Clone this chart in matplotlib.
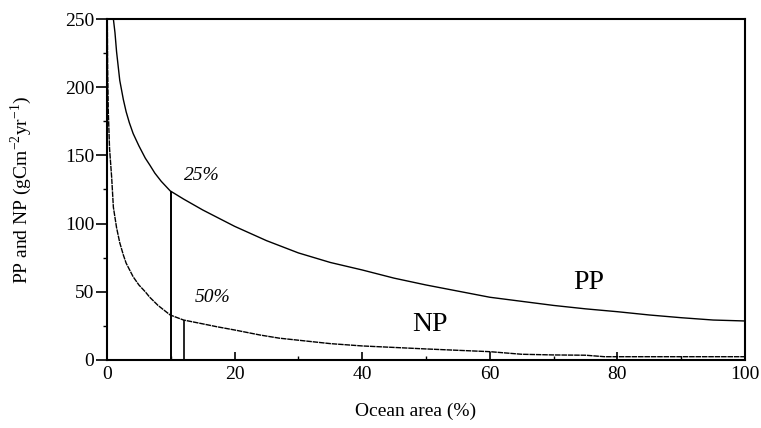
import matplotlib.pyplot as plt
import numpy as np

plt.rcParams['font.family'] = ['Liberation Serif', 'DejaVu Serif']
plt.rcParams['mathtext.fontset'] = 'custom'
plt.rcParams['mathtext.rm'] = 'Liberation Serif'

# curves
pp_x = [1.0, 1.25, 1.5, 2.0, 2.56, 3.0, 3.5, 4.1, 5.0, 6.0, 6.7, 7.5, 8.5, 9.9,
        12, 15, 17.5, 20, 25, 30, 35, 40, 45, 50, 55, 60, 65, 70, 75, 80, 85, 90, 95, 100]
pp_y = [250, 240, 226, 205, 191, 182, 174, 166, 157, 148, 143, 137, 131, 124,
        118, 110, 104, 98, 87.5, 78.5, 71.5, 66, 60, 55, 50.5, 46, 43, 40, 37.5, 35.4, 33, 31, 29.3, 28.6]

np_x = [0.05, 0.1, 0.2, 0.4, 0.73, 1.0, 1.5, 2.0, 2.56, 3.0, 4.1, 5.0, 6.0, 6.7, 8.0, 9.9,
        12, 15, 17.2, 20, 24, 27, 30, 35, 40, 50, 60, 65, 70, 75, 78, 100]
np_y = [250, 215, 183, 155, 134, 112, 97, 86, 77, 71, 61, 55, 50, 46, 40, 33,
        29.3, 26.5, 24.4, 22, 18.3, 16, 14.5, 12, 10.3, 8.1, 6.1, 4.2, 3.7, 3.5, 2.4, 2.4]

cut25 = 10
cut50 = 12

fig = plt.figure(figsize=(7.61, 4.28), dpi=100)
ax = fig.add_axes([0.1406, 0.1589, 0.8384, 0.7967])

ax.plot(pp_x, pp_y, color='black', lw=1.0)
ax.plot(np_x, np_y, color='black', lw=1.0, ls=(0, (4, 0.6)))
ax.vlines(cut25, 0, np.interp(cut25, pp_x, pp_y), color='black', lw=1.4)
ax.vlines(cut50, 0, np.interp(cut50, np_x, np_y), color='black', lw=1.2)

ax.text(14.9, 135, '25%', fontsize=14, style='italic', ha='center', va='center')
ax.text(16.5, 46, '50%', fontsize=14, style='italic', ha='center', va='center')
ax.text(75.5, 57, 'PP', fontsize=20, ha='center', va='center')
ax.text(50.6, 26, 'NP', fontsize=20, ha='center', va='center')

ax.set_xlim(0, 100)
ax.set_ylim(0, 250)
ax.set_xticks(np.arange(0, 101, 20))
ax.set_xticks(np.arange(10, 100, 20), minor=True)
ax.set_yticks(np.arange(0, 251, 50))
ax.set_yticks(np.arange(25, 250, 50), minor=True)
ax.tick_params(axis='x', which='major', direction='in', length=6, width=1.2, labelsize=14, pad=4)
ax.tick_params(axis='x', which='minor', direction='in', length=3, width=1.0)
ax.tick_params(axis='y', which='major', direction='out', length=8, width=1.2, labelsize=14, pad=1)
ax.tick_params(axis='y', which='minor', direction='out', length=3, width=1.0)
for s in ax.spines.values():
    s.set_linewidth(1.5)

ax.set_xlabel('Ocean area (%)', fontsize=14)
ax.xaxis.set_label_coords(0.484, -0.125)
ax.set_ylabel('PP and NP (gCm$^{-2}$yr$^{-1}$)', fontsize=14)
ax.yaxis.set_label_coords(-0.115, 0.5)

fig.savefig('out.png', dpi=100)
